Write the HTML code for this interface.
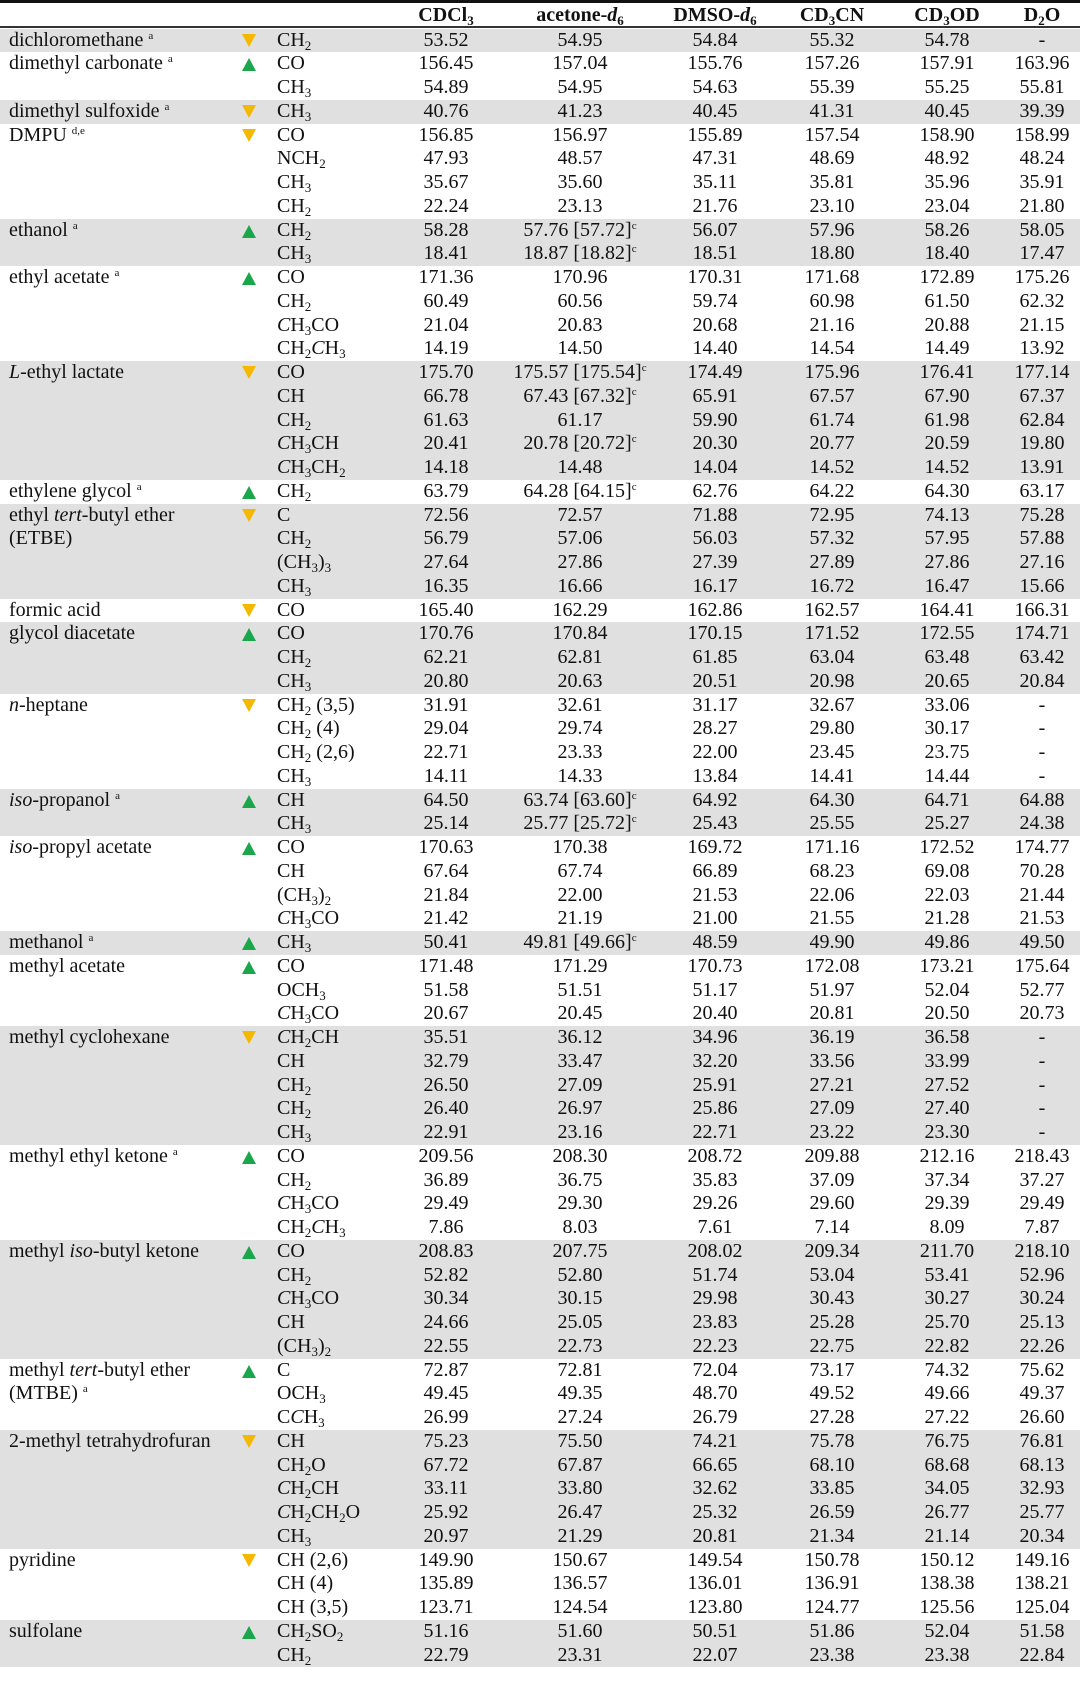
<!DOCTYPE html>
<html><head><meta charset="utf-8">
<style>
*{margin:0;padding:0;box-sizing:border-box}
body{width:1080px;height:1694px;background:#fff;font-family:"Liberation Serif",serif;font-size:20px;color:#111;position:relative;overflow:hidden}
#top{position:absolute;left:0;top:0;width:1080px;height:3px;background:#111}
#hl{position:absolute;left:0;top:26px;width:1080px;height:1.5px;background:#333}
#hdr{position:absolute;left:0;top:3px;height:23px;width:1080px;font-weight:bold}
.grp{position:relative}
.grp.g{background:#e0e0e0}
.r{position:relative;height:23.75px;line-height:23.75px;white-space:nowrap}
.n{position:absolute;left:9px}
.gl{position:absolute;left:277px}
.c{position:absolute;width:180px;text-align:center}
.c1{left:356px}.c2{left:490px}.c3{left:625px}.c4{left:742px}.c5{left:857px}.c6{left:952px}
sub{font-size:13px;vertical-align:-4px;line-height:0}
sup{font-size:11px;vertical-align:7px;line-height:0}
.up,.dn{position:absolute;left:242px;top:6px;width:0;height:0;border-left:7px solid transparent;border-right:7px solid transparent}
.up{border-bottom:13px solid #1aa64a}
.dn{border-top:13px solid #f5b800;top:5px}
#body{position:absolute;left:0;top:28.5px;width:1080px}
</style></head><body>
<div id="top"></div>
<div id="hdr"><div class="r" style="height:23px;line-height:24px">
<span class="c c1">CDCl<sub>3</sub></span><span class="c c2">acetone-<i>d</i><sub>6</sub></span><span class="c c3">DMSO-<i>d</i><sub>6</sub></span><span class="c c4">CD<sub>3</sub>CN</span><span class="c c5">CD<sub>3</sub>OD</span><span class="c c6">D<sub>2</sub>O</span></div></div>
<div id="hl"></div>
<div id="body">

<div class="grp g"><div class="r"><span class="n">dichloromethane <sup>a</sup></span><span class="dn"></span><span class="gl">CH<sub>2</sub></span><span class="c c1">53.52</span><span class="c c2">54.95</span><span class="c c3">54.84</span><span class="c c4">55.32</span><span class="c c5">54.78</span><span class="c c6">-</span></div></div>

<div class="grp"><div class="r"><span class="n">dimethyl carbonate <sup>a</sup></span><span class="up"></span><span class="gl">CO</span><span class="c c1">156.45</span><span class="c c2">157.04</span><span class="c c3">155.76</span><span class="c c4">157.26</span><span class="c c5">157.91</span><span class="c c6">163.96</span></div>
<div class="r"><span class="gl">CH<sub>3</sub></span><span class="c c1">54.89</span><span class="c c2">54.95</span><span class="c c3">54.63</span><span class="c c4">55.39</span><span class="c c5">55.25</span><span class="c c6">55.81</span></div></div>

<div class="grp g"><div class="r"><span class="n">dimethyl sulfoxide <sup>a</sup></span><span class="dn"></span><span class="gl">CH<sub>3</sub></span><span class="c c1">40.76</span><span class="c c2">41.23</span><span class="c c3">40.45</span><span class="c c4">41.31</span><span class="c c5">40.45</span><span class="c c6">39.39</span></div></div>

<div class="grp"><div class="r"><span class="n">DMPU <sup>d,e</sup></span><span class="dn"></span><span class="gl">CO</span><span class="c c1">156.85</span><span class="c c2">156.97</span><span class="c c3">155.89</span><span class="c c4">157.54</span><span class="c c5">158.90</span><span class="c c6">158.99</span></div>
<div class="r"><span class="gl">NCH<sub>2</sub></span><span class="c c1">47.93</span><span class="c c2">48.57</span><span class="c c3">47.31</span><span class="c c4">48.69</span><span class="c c5">48.92</span><span class="c c6">48.24</span></div>
<div class="r"><span class="gl">CH<sub>3</sub></span><span class="c c1">35.67</span><span class="c c2">35.60</span><span class="c c3">35.11</span><span class="c c4">35.81</span><span class="c c5">35.96</span><span class="c c6">35.91</span></div>
<div class="r"><span class="gl">CH<sub>2</sub></span><span class="c c1">22.24</span><span class="c c2">23.13</span><span class="c c3">21.76</span><span class="c c4">23.10</span><span class="c c5">23.04</span><span class="c c6">21.80</span></div></div>

<div class="grp g"><div class="r"><span class="n">ethanol <sup>a</sup></span><span class="up"></span><span class="gl">CH<sub>2</sub></span><span class="c c1">58.28</span><span class="c c2">57.76 [57.72]<sup>c</sup></span><span class="c c3">56.07</span><span class="c c4">57.96</span><span class="c c5">58.26</span><span class="c c6">58.05</span></div>
<div class="r"><span class="gl">CH<sub>3</sub></span><span class="c c1">18.41</span><span class="c c2">18.87 [18.82]<sup>c</sup></span><span class="c c3">18.51</span><span class="c c4">18.80</span><span class="c c5">18.40</span><span class="c c6">17.47</span></div></div>

<div class="grp"><div class="r"><span class="n">ethyl acetate <sup>a</sup></span><span class="up"></span><span class="gl">CO</span><span class="c c1">171.36</span><span class="c c2">170.96</span><span class="c c3">170.31</span><span class="c c4">171.68</span><span class="c c5">172.89</span><span class="c c6">175.26</span></div>
<div class="r"><span class="gl">CH<sub>2</sub></span><span class="c c1">60.49</span><span class="c c2">60.56</span><span class="c c3">59.74</span><span class="c c4">60.98</span><span class="c c5">61.50</span><span class="c c6">62.32</span></div>
<div class="r"><span class="gl"><i>C</i>H<sub>3</sub>CO</span><span class="c c1">21.04</span><span class="c c2">20.83</span><span class="c c3">20.68</span><span class="c c4">21.16</span><span class="c c5">20.88</span><span class="c c6">21.15</span></div>
<div class="r"><span class="gl">CH<sub>2</sub><i>C</i>H<sub>3</sub></span><span class="c c1">14.19</span><span class="c c2">14.50</span><span class="c c3">14.40</span><span class="c c4">14.54</span><span class="c c5">14.49</span><span class="c c6">13.92</span></div></div>

<div class="grp g"><div class="r"><span class="n"><i>L</i>-ethyl lactate</span><span class="dn"></span><span class="gl">CO</span><span class="c c1">175.70</span><span class="c c2">175.57 [175.54]<sup>c</sup></span><span class="c c3">174.49</span><span class="c c4">175.96</span><span class="c c5">176.41</span><span class="c c6">177.14</span></div>
<div class="r"><span class="gl">CH</span><span class="c c1">66.78</span><span class="c c2">67.43 [67.32]<sup>c</sup></span><span class="c c3">65.91</span><span class="c c4">67.57</span><span class="c c5">67.90</span><span class="c c6">67.37</span></div>
<div class="r"><span class="gl">CH<sub>2</sub></span><span class="c c1">61.63</span><span class="c c2">61.17</span><span class="c c3">59.90</span><span class="c c4">61.74</span><span class="c c5">61.98</span><span class="c c6">62.84</span></div>
<div class="r"><span class="gl"><i>C</i>H<sub>3</sub>CH</span><span class="c c1">20.41</span><span class="c c2">20.78 [20.72]<sup>c</sup></span><span class="c c3">20.30</span><span class="c c4">20.77</span><span class="c c5">20.59</span><span class="c c6">19.80</span></div>
<div class="r"><span class="gl"><i>C</i>H<sub>3</sub>CH<sub>2</sub></span><span class="c c1">14.18</span><span class="c c2">14.48</span><span class="c c3">14.04</span><span class="c c4">14.52</span><span class="c c5">14.52</span><span class="c c6">13.91</span></div></div>

<div class="grp"><div class="r"><span class="n">ethylene glycol <sup>a</sup></span><span class="up"></span><span class="gl">CH<sub>2</sub></span><span class="c c1">63.79</span><span class="c c2">64.28 [64.15]<sup>c</sup></span><span class="c c3">62.76</span><span class="c c4">64.22</span><span class="c c5">64.30</span><span class="c c6">63.17</span></div></div>

<div class="grp g"><div class="r"><span class="n">ethyl <i>tert</i>-butyl ether</span><span class="dn"></span><span class="gl">C</span><span class="c c1">72.56</span><span class="c c2">72.57</span><span class="c c3">71.88</span><span class="c c4">72.95</span><span class="c c5">74.13</span><span class="c c6">75.28</span></div>
<div class="r"><span class="n">(ETBE)</span><span class="gl">CH<sub>2</sub></span><span class="c c1">56.79</span><span class="c c2">57.06</span><span class="c c3">56.03</span><span class="c c4">57.32</span><span class="c c5">57.95</span><span class="c c6">57.88</span></div>
<div class="r"><span class="gl">(CH<sub>3</sub>)<sub>3</sub></span><span class="c c1">27.64</span><span class="c c2">27.86</span><span class="c c3">27.39</span><span class="c c4">27.89</span><span class="c c5">27.86</span><span class="c c6">27.16</span></div>
<div class="r"><span class="gl">CH<sub>3</sub></span><span class="c c1">16.35</span><span class="c c2">16.66</span><span class="c c3">16.17</span><span class="c c4">16.72</span><span class="c c5">16.47</span><span class="c c6">15.66</span></div></div>

<div class="grp"><div class="r"><span class="n">formic acid</span><span class="dn"></span><span class="gl">CO</span><span class="c c1">165.40</span><span class="c c2">162.29</span><span class="c c3">162.86</span><span class="c c4">162.57</span><span class="c c5">164.41</span><span class="c c6">166.31</span></div></div>

<div class="grp g"><div class="r"><span class="n">glycol diacetate</span><span class="up"></span><span class="gl">CO</span><span class="c c1">170.76</span><span class="c c2">170.84</span><span class="c c3">170.15</span><span class="c c4">171.52</span><span class="c c5">172.55</span><span class="c c6">174.71</span></div>
<div class="r"><span class="gl">CH<sub>2</sub></span><span class="c c1">62.21</span><span class="c c2">62.81</span><span class="c c3">61.85</span><span class="c c4">63.04</span><span class="c c5">63.48</span><span class="c c6">63.42</span></div>
<div class="r"><span class="gl">CH<sub>3</sub></span><span class="c c1">20.80</span><span class="c c2">20.63</span><span class="c c3">20.51</span><span class="c c4">20.98</span><span class="c c5">20.65</span><span class="c c6">20.84</span></div></div>

<div class="grp"><div class="r"><span class="n"><i>n</i>-heptane</span><span class="dn"></span><span class="gl">CH<sub>2</sub> (3,5)</span><span class="c c1">31.91</span><span class="c c2">32.61</span><span class="c c3">31.17</span><span class="c c4">32.67</span><span class="c c5">33.06</span><span class="c c6">-</span></div>
<div class="r"><span class="gl">CH<sub>2</sub> (4)</span><span class="c c1">29.04</span><span class="c c2">29.74</span><span class="c c3">28.27</span><span class="c c4">29.80</span><span class="c c5">30.17</span><span class="c c6">-</span></div>
<div class="r"><span class="gl">CH<sub>2</sub> (2,6)</span><span class="c c1">22.71</span><span class="c c2">23.33</span><span class="c c3">22.00</span><span class="c c4">23.45</span><span class="c c5">23.75</span><span class="c c6">-</span></div>
<div class="r"><span class="gl">CH<sub>3</sub></span><span class="c c1">14.11</span><span class="c c2">14.33</span><span class="c c3">13.84</span><span class="c c4">14.41</span><span class="c c5">14.44</span><span class="c c6">-</span></div></div>

<div class="grp g"><div class="r"><span class="n"><i>iso</i>-propanol <sup>a</sup></span><span class="up"></span><span class="gl">CH</span><span class="c c1">64.50</span><span class="c c2">63.74 [63.60]<sup>c</sup></span><span class="c c3">64.92</span><span class="c c4">64.30</span><span class="c c5">64.71</span><span class="c c6">64.88</span></div>
<div class="r"><span class="gl">CH<sub>3</sub></span><span class="c c1">25.14</span><span class="c c2">25.77 [25.72]<sup>c</sup></span><span class="c c3">25.43</span><span class="c c4">25.55</span><span class="c c5">25.27</span><span class="c c6">24.38</span></div></div>

<div class="grp"><div class="r"><span class="n"><i>iso</i>-propyl acetate</span><span class="up"></span><span class="gl">CO</span><span class="c c1">170.63</span><span class="c c2">170.38</span><span class="c c3">169.72</span><span class="c c4">171.16</span><span class="c c5">172.52</span><span class="c c6">174.77</span></div>
<div class="r"><span class="gl">CH</span><span class="c c1">67.64</span><span class="c c2">67.74</span><span class="c c3">66.89</span><span class="c c4">68.23</span><span class="c c5">69.08</span><span class="c c6">70.28</span></div>
<div class="r"><span class="gl">(CH<sub>3</sub>)<sub>2</sub></span><span class="c c1">21.84</span><span class="c c2">22.00</span><span class="c c3">21.53</span><span class="c c4">22.06</span><span class="c c5">22.03</span><span class="c c6">21.44</span></div>
<div class="r"><span class="gl"><i>C</i>H<sub>3</sub>CO</span><span class="c c1">21.42</span><span class="c c2">21.19</span><span class="c c3">21.00</span><span class="c c4">21.55</span><span class="c c5">21.28</span><span class="c c6">21.53</span></div></div>

<div class="grp g"><div class="r"><span class="n">methanol <sup>a</sup></span><span class="up"></span><span class="gl">CH<sub>3</sub></span><span class="c c1">50.41</span><span class="c c2">49.81 [49.66]<sup>c</sup></span><span class="c c3">48.59</span><span class="c c4">49.90</span><span class="c c5">49.86</span><span class="c c6">49.50</span></div></div>

<div class="grp"><div class="r"><span class="n">methyl acetate</span><span class="up"></span><span class="gl">CO</span><span class="c c1">171.48</span><span class="c c2">171.29</span><span class="c c3">170.73</span><span class="c c4">172.08</span><span class="c c5">173.21</span><span class="c c6">175.64</span></div>
<div class="r"><span class="gl">OCH<sub>3</sub></span><span class="c c1">51.58</span><span class="c c2">51.51</span><span class="c c3">51.17</span><span class="c c4">51.97</span><span class="c c5">52.04</span><span class="c c6">52.77</span></div>
<div class="r"><span class="gl"><i>C</i>H<sub>3</sub>CO</span><span class="c c1">20.67</span><span class="c c2">20.45</span><span class="c c3">20.40</span><span class="c c4">20.81</span><span class="c c5">20.50</span><span class="c c6">20.73</span></div></div>

<div class="grp g"><div class="r"><span class="n">methyl cyclohexane</span><span class="dn"></span><span class="gl"><i>C</i>H<sub>2</sub>CH</span><span class="c c1">35.51</span><span class="c c2">36.12</span><span class="c c3">34.96</span><span class="c c4">36.19</span><span class="c c5">36.58</span><span class="c c6">-</span></div>
<div class="r"><span class="gl">CH</span><span class="c c1">32.79</span><span class="c c2">33.47</span><span class="c c3">32.20</span><span class="c c4">33.56</span><span class="c c5">33.99</span><span class="c c6">-</span></div>
<div class="r"><span class="gl">CH<sub>2</sub></span><span class="c c1">26.50</span><span class="c c2">27.09</span><span class="c c3">25.91</span><span class="c c4">27.21</span><span class="c c5">27.52</span><span class="c c6">-</span></div>
<div class="r"><span class="gl">CH<sub>2</sub></span><span class="c c1">26.40</span><span class="c c2">26.97</span><span class="c c3">25.86</span><span class="c c4">27.09</span><span class="c c5">27.40</span><span class="c c6">-</span></div>
<div class="r"><span class="gl">CH<sub>3</sub></span><span class="c c1">22.91</span><span class="c c2">23.16</span><span class="c c3">22.71</span><span class="c c4">23.22</span><span class="c c5">23.30</span><span class="c c6">-</span></div></div>

<div class="grp"><div class="r"><span class="n">methyl ethyl ketone <sup>a</sup></span><span class="up"></span><span class="gl">CO</span><span class="c c1">209.56</span><span class="c c2">208.30</span><span class="c c3">208.72</span><span class="c c4">209.88</span><span class="c c5">212.16</span><span class="c c6">218.43</span></div>
<div class="r"><span class="gl">CH<sub>2</sub></span><span class="c c1">36.89</span><span class="c c2">36.75</span><span class="c c3">35.83</span><span class="c c4">37.09</span><span class="c c5">37.34</span><span class="c c6">37.27</span></div>
<div class="r"><span class="gl"><i>C</i>H<sub>3</sub>CO</span><span class="c c1">29.49</span><span class="c c2">29.30</span><span class="c c3">29.26</span><span class="c c4">29.60</span><span class="c c5">29.39</span><span class="c c6">29.49</span></div>
<div class="r"><span class="gl">CH<sub>2</sub><i>C</i>H<sub>3</sub></span><span class="c c1">7.86</span><span class="c c2">8.03</span><span class="c c3">7.61</span><span class="c c4">7.14</span><span class="c c5">8.09</span><span class="c c6">7.87</span></div></div>

<div class="grp g"><div class="r"><span class="n">methyl <i>iso</i>-butyl ketone</span><span class="up"></span><span class="gl">CO</span><span class="c c1">208.83</span><span class="c c2">207.75</span><span class="c c3">208.02</span><span class="c c4">209.34</span><span class="c c5">211.70</span><span class="c c6">218.10</span></div>
<div class="r"><span class="gl">CH<sub>2</sub></span><span class="c c1">52.82</span><span class="c c2">52.80</span><span class="c c3">51.74</span><span class="c c4">53.04</span><span class="c c5">53.41</span><span class="c c6">52.96</span></div>
<div class="r"><span class="gl"><i>C</i>H<sub>3</sub>CO</span><span class="c c1">30.34</span><span class="c c2">30.15</span><span class="c c3">29.98</span><span class="c c4">30.43</span><span class="c c5">30.27</span><span class="c c6">30.24</span></div>
<div class="r"><span class="gl">CH</span><span class="c c1">24.66</span><span class="c c2">25.05</span><span class="c c3">23.83</span><span class="c c4">25.28</span><span class="c c5">25.70</span><span class="c c6">25.13</span></div>
<div class="r"><span class="gl">(CH<sub>3</sub>)<sub>2</sub></span><span class="c c1">22.55</span><span class="c c2">22.73</span><span class="c c3">22.23</span><span class="c c4">22.75</span><span class="c c5">22.82</span><span class="c c6">22.26</span></div></div>

<div class="grp"><div class="r"><span class="n">methyl <i>tert</i>-butyl ether</span><span class="up"></span><span class="gl">C</span><span class="c c1">72.87</span><span class="c c2">72.81</span><span class="c c3">72.04</span><span class="c c4">73.17</span><span class="c c5">74.32</span><span class="c c6">75.62</span></div>
<div class="r"><span class="n">(MTBE) <sup>a</sup></span><span class="gl">OCH<sub>3</sub></span><span class="c c1">49.45</span><span class="c c2">49.35</span><span class="c c3">48.70</span><span class="c c4">49.52</span><span class="c c5">49.66</span><span class="c c6">49.37</span></div>
<div class="r"><span class="gl">C<i>C</i>H<sub>3</sub></span><span class="c c1">26.99</span><span class="c c2">27.24</span><span class="c c3">26.79</span><span class="c c4">27.28</span><span class="c c5">27.22</span><span class="c c6">26.60</span></div></div>

<div class="grp g"><div class="r"><span class="n">2-methyl tetrahydrofuran</span><span class="dn"></span><span class="gl">CH</span><span class="c c1">75.23</span><span class="c c2">75.50</span><span class="c c3">74.21</span><span class="c c4">75.78</span><span class="c c5">76.75</span><span class="c c6">76.81</span></div>
<div class="r"><span class="gl">CH<sub>2</sub>O</span><span class="c c1">67.72</span><span class="c c2">67.87</span><span class="c c3">66.65</span><span class="c c4">68.10</span><span class="c c5">68.68</span><span class="c c6">68.13</span></div>
<div class="r"><span class="gl"><i>C</i>H<sub>2</sub>CH</span><span class="c c1">33.11</span><span class="c c2">33.80</span><span class="c c3">32.62</span><span class="c c4">33.85</span><span class="c c5">34.05</span><span class="c c6">32.93</span></div>
<div class="r"><span class="gl"><i>C</i>H<sub>2</sub>CH<sub>2</sub>O</span><span class="c c1">25.92</span><span class="c c2">26.47</span><span class="c c3">25.32</span><span class="c c4">26.59</span><span class="c c5">26.77</span><span class="c c6">25.77</span></div>
<div class="r"><span class="gl">CH<sub>3</sub></span><span class="c c1">20.97</span><span class="c c2">21.29</span><span class="c c3">20.81</span><span class="c c4">21.34</span><span class="c c5">21.14</span><span class="c c6">20.34</span></div></div>

<div class="grp"><div class="r"><span class="n">pyridine</span><span class="dn"></span><span class="gl">CH (2,6)</span><span class="c c1">149.90</span><span class="c c2">150.67</span><span class="c c3">149.54</span><span class="c c4">150.78</span><span class="c c5">150.12</span><span class="c c6">149.16</span></div>
<div class="r"><span class="gl">CH (4)</span><span class="c c1">135.89</span><span class="c c2">136.57</span><span class="c c3">136.01</span><span class="c c4">136.91</span><span class="c c5">138.38</span><span class="c c6">138.21</span></div>
<div class="r"><span class="gl">CH (3,5)</span><span class="c c1">123.71</span><span class="c c2">124.54</span><span class="c c3">123.80</span><span class="c c4">124.77</span><span class="c c5">125.56</span><span class="c c6">125.04</span></div></div>

<div class="grp g"><div class="r"><span class="n">sulfolane</span><span class="up"></span><span class="gl">CH<sub>2</sub>SO<sub>2</sub></span><span class="c c1">51.16</span><span class="c c2">51.60</span><span class="c c3">50.51</span><span class="c c4">51.86</span><span class="c c5">52.04</span><span class="c c6">51.58</span></div>
<div class="r"><span class="gl">CH<sub>2</sub></span><span class="c c1">22.79</span><span class="c c2">23.31</span><span class="c c3">22.07</span><span class="c c4">23.38</span><span class="c c5">23.38</span><span class="c c6">22.84</span></div></div>

</div>
</body></html>
